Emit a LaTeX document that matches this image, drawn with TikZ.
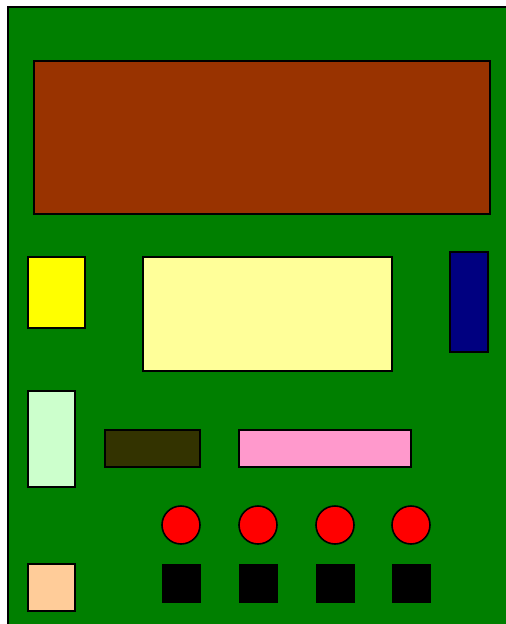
\documentclass[tikz,border=0pt]{standalone}
\usepackage{tikz}

\definecolor{board}{HTML}{007F00}
\definecolor{rust}{HTML}{993300}
\definecolor{lemon}{HTML}{FFFF00}
\definecolor{paleyellow}{HTML}{FFFF99}
\definecolor{navy}{HTML}{000080}
\definecolor{mint}{HTML}{CCFFCC}
\definecolor{olive}{HTML}{333300}
\definecolor{pink}{HTML}{FF99CC}
\definecolor{peach}{HTML}{FFCC99}
\definecolor{button}{HTML}{FF0000}

\begin{document}
\begin{tikzpicture}[x=1pt, y=-1pt, part/.style={draw=black, line width=1.6pt}]
  % Page frame
  \clip (0, 0) rectangle (506, 624);
  \fill[white] (0, 0) rectangle (506, 624);

  % Board
  \draw[part, fill=board] (8, 7) rectangle (530, 650);

  % Top block
  \draw[part, fill=rust] (34, 61) rectangle (490, 214);

  % Middle row
  \draw[part, fill=lemon] (28, 257) rectangle (85, 328);
  \draw[part, fill=paleyellow] (143, 257) rectangle (392, 371);
  \draw[part, fill=navy] (450, 252) rectangle (488, 352);

  % Lower row
  \draw[part, fill=mint] (28, 391) rectangle (75, 487);
  \draw[part, fill=olive] (105, 430) rectangle (200, 467);
  \draw[part, fill=pink] (239, 430) rectangle (411, 467);

  % Buttons and pads
  \foreach \x in {181, 258, 335, 411} {
    \draw[part, fill=button] (\x, 525) circle (19);
    \fill[black] (\x-19.5, 564) rectangle (\x+19.5, 603);
  }

  % Corner block
  \draw[part, fill=peach] (28, 564) rectangle (75, 611);
\end{tikzpicture}
\end{document}
